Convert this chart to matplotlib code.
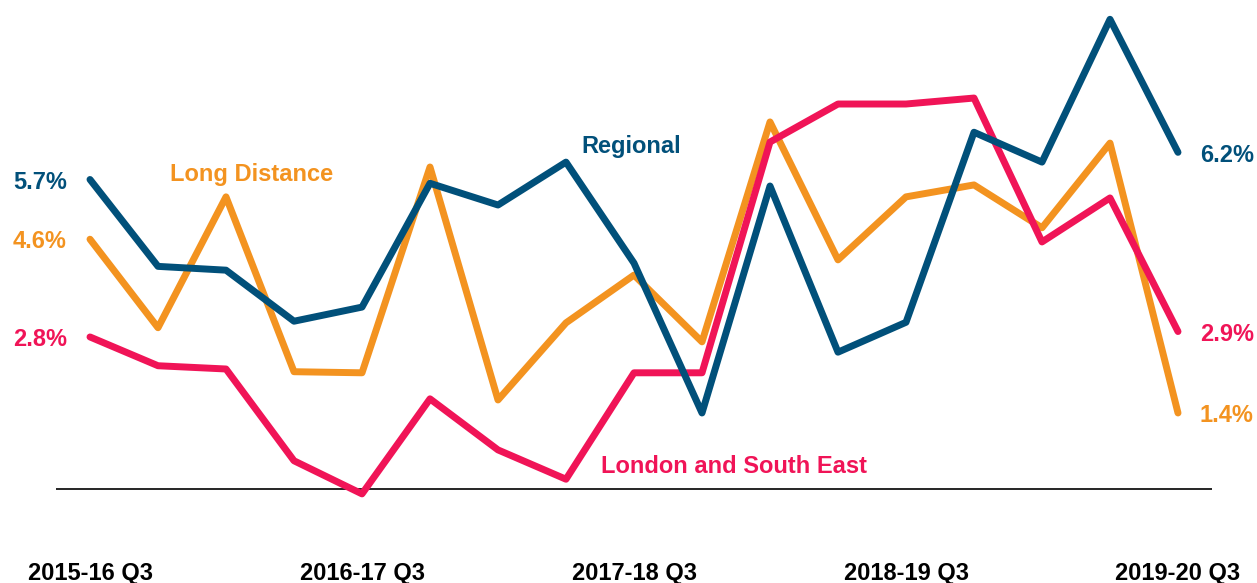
import matplotlib
matplotlib.use("Agg")
import matplotlib.pyplot as plt

plt.rcParams['font.family'] = ['Liberation Sans', 'DejaVu Sans']

quarters = ["2015-16 Q3", "2015-16 Q4", "2016-17 Q1", "2016-17 Q2", "2016-17 Q3",
            "2016-17 Q4", "2017-18 Q1", "2017-18 Q2", "2017-18 Q3", "2017-18 Q4",
            "2018-19 Q1", "2018-19 Q2", "2018-19 Q3", "2018-19 Q4", "2019-20 Q1",
            "2019-20 Q2", "2019-20 Q3"]

regional = [5.70, 4.10, 4.03, 3.09, 3.35, 5.63, 5.23, 6.02, 4.16, 1.40,
            5.58, 2.52, 3.07, 6.57, 6.02, 8.65, 6.20]
london_se = [2.80, 2.27, 2.21, 0.52, -0.09, 1.66, 0.72, 0.18, 2.14, 2.14,
             6.39, 7.09, 7.09, 7.20, 4.55, 5.36, 2.90]
long_distance = [4.60, 2.97, 5.38, 2.16, 2.14, 5.93, 1.64, 3.06, 3.94, 2.71,
                 6.76, 4.22, 5.38, 5.60, 4.81, 6.37, 1.40]

C_REG = '#01507A'
C_LSE = '#F01457'
C_LD = '#F39320'

W, H = 1257, 583
fig = plt.figure(figsize=(W / 100, H / 100), dpi=100)
ax = fig.add_axes([56 / W, (H - 543.3) / H, 1156 / W, 543.0 / H])

x = list(range(len(quarters)))
lw = 5.0
for vals, col in [(long_distance, C_LD), (london_se, C_LSE), (regional, C_REG)]:
    ax.plot(x, vals, color=col, lw=lw, solid_capstyle='round',
            solid_joinstyle='round', clip_on=False, zorder=3)

ax.axhline(0, color='black', lw=1.2, zorder=2)

ax.set_xlim(-0.5, 16.5)
ax.set_ylim(-1, 9)
for s in ax.spines.values():
    s.set_visible(False)
ax.set_yticks([])
ax.set_xticks(x[::4])
ax.set_xticklabels(quarters[::4], fontsize=17, fontweight='bold', color='black')
ax.tick_params(axis='x', length=0, pad=13.5)

fs = 17
# series name labels
ax.text(7.96, 6.30, "Regional", color=C_REG, fontsize=fs, fontweight='bold',
        ha='center', va='center')
ax.text(2.37, 5.80, "Long Distance", color=C_LD, fontsize=fs, fontweight='bold',
        ha='center', va='center')
ax.text(9.47, 0.42, "London and South East", color=C_LSE, fontsize=fs,
        fontweight='bold', ha='center', va='center')

# endpoint labels
for vals, col in [(regional, C_REG), (london_se, C_LSE), (long_distance, C_LD)]:
    ax.text(-0.34, vals[0] - 0.05, f"{vals[0]:.1f}%", color=col, fontsize=fs,
            fontweight='bold', ha='right', va='center')
    ax.text(16.32, vals[-1] - 0.05, f"{vals[-1]:.1f}%", color=col, fontsize=fs,
            fontweight='bold', ha='left', va='center')

fig.savefig("out.png", dpi=100, facecolor='white')
